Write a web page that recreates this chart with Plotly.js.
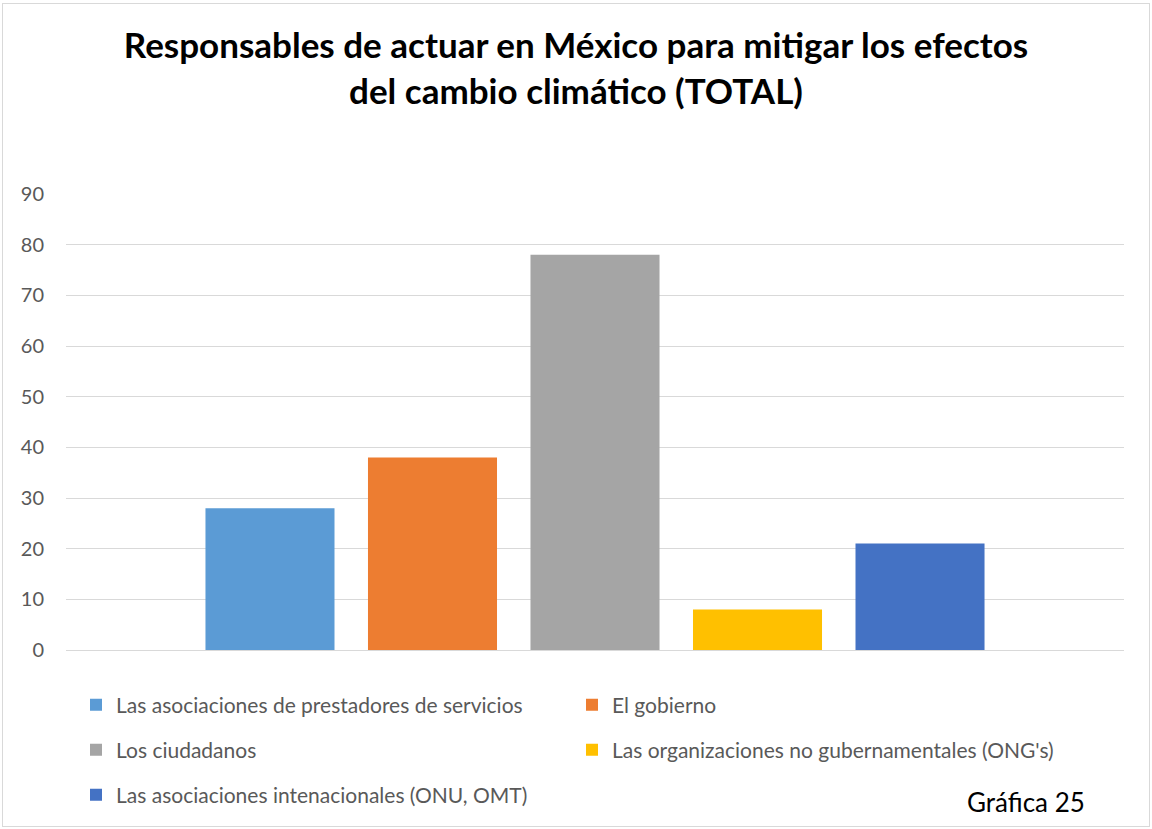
<!DOCTYPE html>
<html>
<head>
<meta charset="utf-8">
<script src="https://cdn.plot.ly/plotly-3.0.1.min.js"></script>
<style>
html,body{margin:0;padding:0;background:#fff;}
#frame{position:absolute;left:2px;top:3px;width:1146px;height:822px;border:1px solid #d9d9d9;}
#chart{position:absolute;left:0;top:0;width:1152px;height:829px;}
</style>
</head>
<body>
<div id="frame"></div>
<div id="chart"></div>
<script>
const seriesNames = [
  "Las asociaciones de prestadores de servicios",
  "El gobierno",
  "Los ciudadanos",
  "Las organizaciones no gubernamentales (ONG's)",
  "Las asociaciones intenacionales (ONU, OMT)"
];
const seriesValues = [28, 38, 78, 8, 21];
const category = ["TOTAL"];
const seriesColors = ["#5B9BD5", "#ED7D31", "#A5A5A5", "#FFC000", "#4472C4"];
const legendIds = ["legend", "legend", "legend2", "legend2", "legend3"];
const yTicks = [0, 10, 20, 30, 40, 50, 60, 70, 80, 90];

const FONT = "Lato, 'Noto Sans', sans-serif";

const traces = seriesNames.map((name, i) => ({
  type: "bar",
  name: name,
  x: category,
  y: [seriesValues[i]],
  marker: {color: seriesColors[i]},
  legend: legendIds[i],
  hoverinfo: "name+y"
}));

const H = 829, W = 1152;
const PT = 194, PB = 650, PL = 66, PR = 1124;
const legendCommon = {
  orientation: "h",
  xref: "container", yref: "container",
  xanchor: "left", yanchor: "middle",
  entrywidth: 451, entrywidthmode: "pixels",
  itemwidth: 30,
  font: {family: FONT, size: 21, color: "#595959"},
  bgcolor: "rgba(0,0,0,0)",
  borderwidth: 0,
  itemclick: false, itemdoubleclick: false
};

const layout = {
  width: W, height: H,
  paper_bgcolor: "rgba(0,0,0,0)",
  plot_bgcolor: "rgba(0,0,0,0)",
  margin: {l: PL, r: W - PR, t: PT, b: H - PB},
  font: {family: FONT, color: "#595959"},
  title: {
    text: "<b>Responsables de actuar en México para mitigar los efectos<br>del cambio climático (TOTAL)</b>",
    font: {family: FONT, size: 35, color: "#000000"},
    x: 0.5, xref: "container", xanchor: "center",
    y: 1 - 58 / H, yref: "container", yanchor: "top"
  },
  barmode: "group",
  bargap: 0.232,
  bargroupgap: 0.206,
  xaxis: {range: [-0.5, 0.5], showticklabels: false, showgrid: false, zeroline: false, showline: false, ticks: "", fixedrange: true},
  yaxis: {
    range: [0, 90], tickvals: yTicks, ticktext: yTicks.map(String),
    showgrid: true, gridcolor: "#d9d9d9", gridwidth: 1,
    zeroline: true, zerolinecolor: "#d9d9d9", zerolinewidth: 1,
    showline: false, ticks: "", ticklabelstandoff: 21,
    tickfont: {family: FONT, size: 20, color: "#595959"},
    fixedrange: true
  },
  legend: Object.assign({}, legendCommon, {x: 76 / W, y: 1 - 705 / H}),
  legend2: Object.assign({}, legendCommon, {x: 76 / W, y: 1 - 750 / H}),
  legend3: Object.assign({}, legendCommon, {x: 76 / W, y: 1 - 795 / H}),
  showlegend: true,
  annotations: [{
    text: "Gráfica 25",
    xref: "paper", yref: "paper",
    x: (965 - PL) / (PR - PL), y: (PB - 802) / (PB - PT), xanchor: "left", yanchor: "middle",
    showarrow: false,
    font: {family: FONT, size: 26, color: "#000000"}
  }]
};

Plotly.newPlot("chart", traces, layout, {displayModeBar: false});
</script>
</body>
</html>
